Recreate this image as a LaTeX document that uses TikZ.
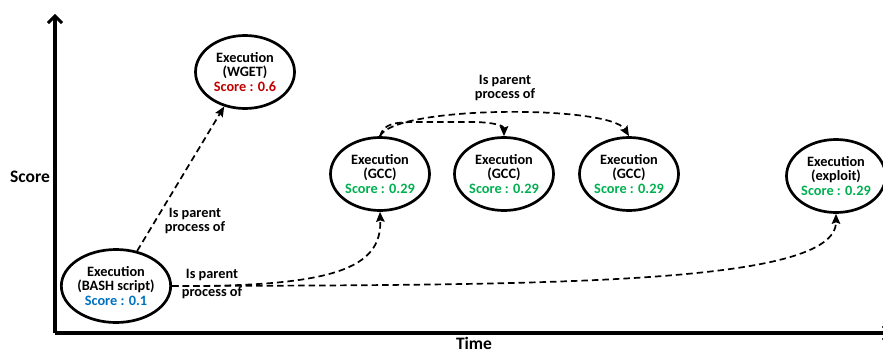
\documentclass[tikz,border=0pt]{standalone}
\usepackage{fontspec}
\setmainfont{Carlito}
\usetikzlibrary{shapes.geometric,arrows.meta}
\definecolor{scblue}{HTML}{0070C0}
\definecolor{scred}{HTML}{C00000}
\definecolor{scgreen}{HTML}{00B050}
\tikzset{
  evt/.style={ellipse, draw, line width=2.7pt, minimum width=99pt, minimum height=73pt, inner sep=0pt, align=center, font=\fontsize{14.3}{14.5}\selectfont\bfseries},
  rel/.style={line width=1.7pt, dash pattern=on 6.5pt off 4pt, -{Stealth[length=10pt,width=8.5pt,inset=1.5pt]}},
  lbl/.style={align=center, font=\fontsize{14.3}{14.5}\selectfont\bfseries},
  axis/.style={line width=4pt, -{Straight Barb[length=7pt,width=14pt,line width=3pt]}},
  axlbl/.style={font=\fontsize{17.5}{18}\selectfont\bfseries, anchor=base, inner sep=0pt}
}
\begin{document}
\begin{tikzpicture}[x=1pt,y=-1pt]
\useasboundingbox (0,0) rectangle (883,353);
% axes
\coordinate (origin) at (55,333);
\coordinate (ytop) at (57,14);
\coordinate (xend) at (892,333);
\draw[axis] (origin) -- (origin |- ytop);
\draw[axis] (origin) -- (xend);
\node[axlbl] (ylabel) at (30,182) {Score};
\node[axlbl] (xlabel) at (474,349) {Time};
% nodes
\node[evt] (bash) at (116,286) {Execution\\(BASH script)\\\textcolor{scblue}{Score : 0.1}};
\node[evt] (wget) at (245,72) {Execution\\(WGET)\\\textcolor{scred}{Score : 0.6}};
\node[evt] (gcc1) at (380,174) {Execution\\(GCC)\\\textcolor{scgreen}{Score : 0.29}};
\node[evt] (gcc2) at (504,174) {Execution\\(GCC)\\\textcolor{scgreen}{Score : 0.29}};
\node[evt] (gcc3) at (629,174) {Execution\\(GCC)\\\textcolor{scgreen}{Score : 0.29}};
\node[evt] (expl) at (836,176) {Execution\\(exploit)\\\textcolor{scgreen}{Score : 0.29}};
% connectors
\draw[rel] (bash) -- (wget);
\node[lbl] (l1) at (195,221) {Is parent\\process of};
\draw[rel] (bash.east) .. controls (335,287) and (382,268) .. (gcc1.south);
\draw[rel] (bash.east) .. controls (550,285) and (836,285) .. (expl.south);
\node[lbl] (l2) at (212,284) {Is parent\\[4pt]process of};
\draw[rel] (gcc1.north) .. controls (384,123) and (395,122) .. (420,122) -- (470,122) .. controls (495,122) and (504,126) .. (gcc2.north);
\draw[rel] (gcc1.north) .. controls (395,105) and (610,105) .. (gcc3.north);
\node[lbl] (l3) at (505,88) {Is parent\\process of};
\end{tikzpicture}
\end{document}
